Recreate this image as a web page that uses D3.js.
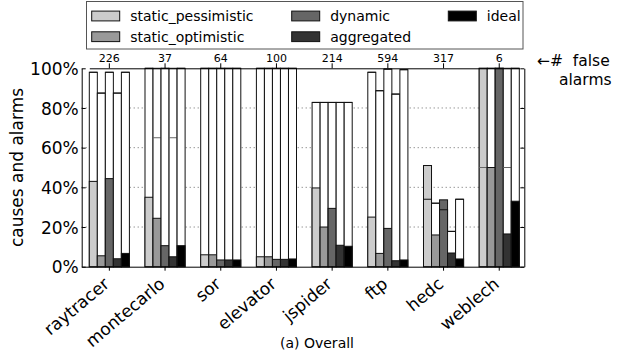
<!DOCTYPE html>
<html>
<head>
<meta charset="utf-8">
<script src="https://cdn.jsdelivr.net/npm/d3@7"></script>
<style>
  body { margin: 0; background: #fff; }
  svg { display: block; font-family: "DejaVu Sans", sans-serif; }
</style>
</head>
<body>
<svg id="chart" width="624" height="351"></svg>
<script>
var benchmarks = ['raytracer', 'montecarlo', 'sor', 'elevator', 'jspider', 'ftp', 'hedc', 'weblech'];
var falseAlarms = [226, 37, 64, 100, 214, 594, 317, 6];
var series = ['static_pessimistic', 'static_optimistic', 'dynamic', 'aggregated', 'ideal'];
var yTicks = [0, 20, 40, 60, 80, 100];

// one row per series, one column per benchmark (percent)
var causes = [
  [43, 35, 6, 5, 39.7, 25, 51, 100],
  [5.5, 24.4, 6, 5, 20, 6.7, 16, 50],
  [44.4, 10.6, 3.4, 3.7, 29.4, 19.3, 33.7, 100],
  [4, 5, 3.4, 3.7, 10.8, 3, 6.9, 16.5],
  [6.7, 10.6, 3.4, 3.9, 10.3, 3.4, 3.9, 33]
];
var alarms = [
  [98, 100, 100, 100, 82.8, 98, 34, 100],
  [87.5, 100, 100, 100, 82.8, 88.7, 32, 100],
  [98, 100, 100, 100, 82.8, 99.6, 28.7, 100],
  [87.5, 100, 100, 100, 82.8, 87, 17.8, 100],
  [98, 100, 100, 100, 82.8, 99.3, 34, 100]
];
var limits = [
  [98, 100, 100, 100, 82.8, 98, 34, 50],
  [87.5, 65, 100, 100, 82.8, 88.7, 32, 100],
  [98, 100, 100, 100, 82.8, 99.6, 28.7, 100],
  [87.5, 65, 100, 100, 82.8, 87, 17.8, 50],
  [98, 100, 100, 100, 82.8, 99.3, 34, 100]
];

(function(){
var _svg, _plot, _x, _xs, _y,
  shades = ['#cccccc', '#999999', '#666666', '#333333', '#000000'],
  margin = {top: 68.3, right: 99.7, bottom: 84.3, left: 81.7},
  width = 624 - margin.left - margin.right,
  height = 351 - margin.top - margin.bottom,
  drawGrid = function(){
    _plot.append('g').selectAll('line')
      .data(yTicks.filter(function(d){ return d > 0 && d < 100; }))
      .join('line')
      .attr('x1', 0).attr('x2', width)
      .attr('y1', _y).attr('y2', _y)
      .attr('stroke', '#444').attr('stroke-width', 0.8)
      .attr('stroke-dasharray', '1,3');
  },
  drawBars = function(){
    var data = [];
    benchmarks.forEach(function(b, i){
      series.forEach(function(s, k){
        data.push({b: b, s: s, k: k, c: causes[k][i], a: alarms[k][i], l: limits[k][i]});
      });
    });
    var bw = _xs.bandwidth(),
        g = _plot.append('g').selectAll('g').data(data).join('g')
          .attr('transform', function(d){ return 'translate(' + (_x(d.b) + _xs(d.s)) + ',0)'; });
    g.append('rect')
      .attr('width', bw)
      .attr('y', function(d){ return _y(d.a); })
      .attr('height', function(d){ return _y(0) - _y(d.a); })
      .attr('fill', '#fff').attr('stroke', '#111').attr('stroke-width', 1);
    g.append('rect')
      .attr('width', bw)
      .attr('y', function(d){ return _y(d.c); })
      .attr('height', function(d){ return _y(0) - _y(d.c); })
      .attr('fill', function(d){ return shades[d.k]; })
      .attr('stroke', '#111').attr('stroke-width', 1);
    g.append('line')
      .attr('x1', 0).attr('x2', bw)
      .attr('y1', function(d){ return _y(d.l); })
      .attr('y2', function(d){ return _y(d.l); })
      .attr('stroke', function(d){ return d.l < d.a ? '#666' : '#111'; })
      .attr('stroke-width', 1);
  },
  drawAxes = function(){
    var left = _plot.append('g')
      .call(d3.axisLeft(_y).tickValues(yTicks).tickFormat(function(d){ return d + '%'; })
        .tickSizeInner(-4).tickSizeOuter(0).tickPadding(3));
    var right = _plot.append('g').attr('transform', 'translate(' + width + ',0)')
      .call(d3.axisRight(_y).tickValues(yTicks).tickFormat('')
        .tickSizeInner(-4).tickSizeOuter(0));
    var bottom = _plot.append('g').attr('transform', 'translate(0,' + height + ')')
      .call(d3.axisBottom(_x).tickSizeInner(4).tickSizeOuter(0).tickFormat(''));
    var top = _plot.append('g')
      .call(d3.axisTop(_x).tickSizeInner(5).tickSizeOuter(0).tickPadding(1.6)
        .tickFormat(function(d, i){ return falseAlarms[i]; }));
    [left, right, bottom, top].forEach(function(a){
      a.selectAll('path, line').attr('stroke', '#000');
      a.selectAll('text').attr('fill', '#000').attr('font-family', 'DejaVu Sans');
    });
    bottom.select('.domain').attr('d', 'M0.5,0.5H' + width);
    left.selectAll('text').attr('font-size', 17).attr('dy', '0.36em');
    top.selectAll('text').attr('font-size', 11).attr('dy', 0);

    // rotated benchmark names
    _plot.append('g').selectAll('text').data(benchmarks).join('text')
      .attr('transform', function(d){
        return 'translate(' + (_x(d) + _x.bandwidth() / 2 + 1) + ',' + (height + 19) + ') rotate(-40)';
      })
      .attr('text-anchor', 'end')
      .attr('font-size', 17)
      .text(function(d){ return d; });
  },
  drawLegend = function(){
    var lg = _svg.append('g'),
        colX = [91.7, 291.7, 448.3], rowY = [16, 36.7];
    lg.append('rect')
      .attr('x', 86.5).attr('y', 1.5).attr('width', 436.5).attr('height', 47.5)
      .attr('fill', '#fff').attr('stroke', '#555').attr('stroke-width', 1);
    var item = lg.selectAll('g.item').data(series).join('g')
      .attr('transform', function(d, k){
        return 'translate(' + colX[Math.floor(k / 2)] + ',' + rowY[k % 2] + ')';
      });
    item.append('rect')
      .attr('x', 0).attr('y', -4.9).attr('width', 28).attr('height', 9.8)
      .attr('fill', function(d, k){ return shades[k]; })
      .attr('stroke', '#111').attr('stroke-width', 1);
    item.append('text')
      .attr('x', 38.5).attr('y', 5)
      .attr('font-size', 14)
      .text(function(d){ return d; });
  },
  drawLabels = function(){
    _svg.append('text')
      .attr('transform', 'translate(23,' + (margin.top + height / 2) + ') rotate(-90)')
      .attr('text-anchor', 'middle').attr('font-size', 17)
      .text('causes and alarms');
    var note = _svg.append('text').attr('font-size', 15.5);
    note.append('tspan').attr('x', 537).attr('y', 66).text('\u2190#\u00a0 false');
    note.append('tspan').attr('x', 559).attr('y', 84.5).text('alarms');
    _svg.append('text')
      .attr('x', 317).attr('y', 347.5)
      .attr('text-anchor', 'middle').attr('font-size', 14)
      .text('(a) Overall');
  },
  init = function(){
    _svg = d3.select('#chart');
    _plot = _svg.append('g').attr('transform', 'translate(' + margin.left + ',' + margin.top + ')');
    _y = d3.scaleLinear().domain([0, 100]).range([height, 0]);
    _x = d3.scaleBand().domain(benchmarks)
      .range([7.6, width - 5]).paddingInner(0.28).paddingOuter(0);
    _xs = d3.scaleBand().domain(series).range([0, _x.bandwidth()]);
    drawGrid();
    drawBars();
    drawAxes();
    drawLegend();
    drawLabels();
  };
init();
})();
</script>
</body>
</html>
